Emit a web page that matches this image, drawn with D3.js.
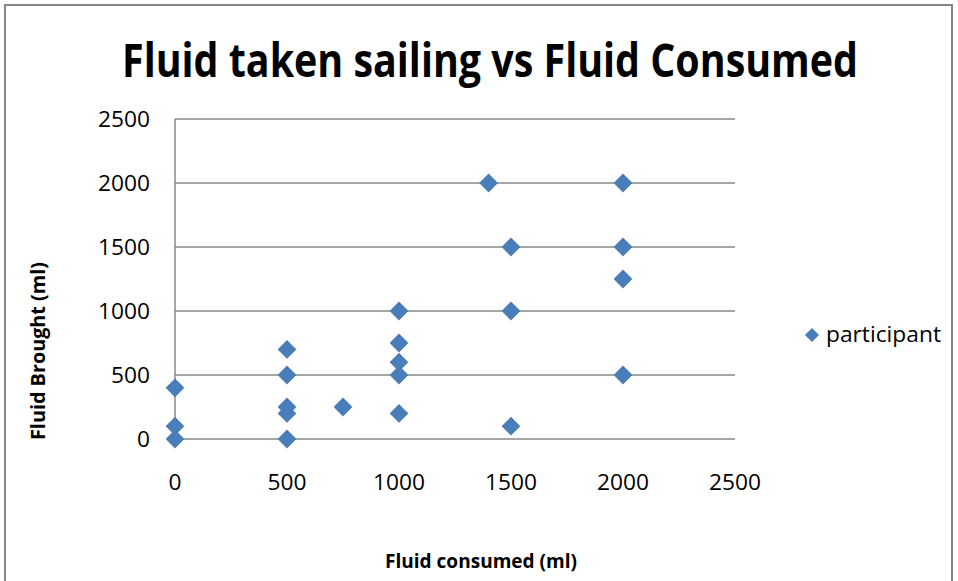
<!DOCTYPE html>
<html><head><meta charset="utf-8">
<script src="https://cdn.jsdelivr.net/npm/d3@7"></script>
<style>body{margin:0;background:#fff}</style>
</head><body>
<script>
const title = "Fluid taken sailing vs Fluid Consumed";
const xTitle = "Fluid consumed (ml)";
const yTitle = "Fluid Brought (ml)";
const seriesName = "participant";
const consumed = [0, 0, 0, 500, 500, 500, 500, 500, 750, 1000, 1000, 1000, 1000, 1000, 1400, 1500, 1500, 1500, 2000, 2000, 2000, 2000];
const brought  = [0, 100, 400, 0, 200, 250, 500, 700, 250, 200, 500, 600, 750, 1000, 2000, 100, 1000, 1500, 500, 1250, 1500, 2000];
const xTicks = [0, 500, 1000, 1500, 2000, 2500];
const yTicks = [0, 500, 1000, 1500, 2000, 2500];

const W = 958, H = 581;
const svg = d3.select("body").append("svg").attr("width", W).attr("height", H);
const font = "'Open Sans', sans-serif";

svg.append("rect").attr("x", 5).attr("y", 5).attr("width", 947).attr("height", 600)
  .attr("fill", "#fff").attr("stroke", "#868686").attr("stroke-width", 2);

const x = d3.scaleLinear().domain([0, 2500]).range([175, 735]);
const y = d3.scaleLinear().domain([0, 2500]).range([439, 119]);

svg.append("g").selectAll("line").data(yTicks).join("line")
  .attr("x1", x(0)).attr("x2", x(2500))
  .attr("y1", d => y(d)).attr("y2", d => y(d))
  .attr("stroke", "#888").attr("stroke-width", 1.5);
svg.append("line").attr("x1", x(0)).attr("x2", x(0)).attr("y1", y(0)).attr("y2", y(2500))
  .attr("stroke", "#888").attr("stroke-width", 1.5);

svg.append("g").selectAll("text").data(yTicks).join("text")
  .attr("x", 150).attr("y", d => y(d)).attr("dy", "0.36em")
  .attr("text-anchor", "end").attr("font-family", font)
  .attr("font-size", 21).attr("textLength", d => String(d).length * 13).attr("lengthAdjust", "spacingAndGlyphs")
  .attr("fill", "#000").text(d => d);
svg.append("g").selectAll("text").data(xTicks).join("text")
  .attr("x", d => x(d)).attr("y", 490)
  .attr("text-anchor", "middle").attr("font-family", font)
  .attr("font-size", 21).attr("textLength", d => String(d).length * 13).attr("lengthAdjust", "spacingAndGlyphs")
  .attr("fill", "#000").text(d => d);

const diamond = d3.symbol().type(d3.symbolDiamond2).size(225);
svg.append("g").selectAll("path").data(consumed.map((c, i) => [c, brought[i]])).join("path")
  .attr("d", diamond)
  .attr("transform", d => `translate(${x(d[0])},${y(d[1])})`)
  .attr("fill", "#4A7EBB");

svg.append("text").attr("transform", "translate(490,77) scale(1,1.15)").attr("text-anchor", "middle")
  .attr("font-family", font).attr("font-weight", "bold")
  .attr("font-size", 40).attr("textLength", 736).attr("lengthAdjust", "spacingAndGlyphs")
  .attr("fill", "#000").text(title);

svg.append("text").attr("x", 481).attr("y", 568).attr("text-anchor", "middle")
  .attr("font-family", font).attr("font-weight", "bold")
  .attr("font-size", 20).attr("textLength", 192).attr("lengthAdjust", "spacingAndGlyphs")
  .attr("fill", "#000").text(xTitle);
svg.append("text").attr("transform", "translate(45,351) rotate(-90)").attr("text-anchor", "middle")
  .attr("font-family", font).attr("font-weight", "bold")
  .attr("font-size", 20).attr("textLength", 178).attr("lengthAdjust", "spacingAndGlyphs")
  .attr("fill", "#000").text(yTitle);

svg.append("path").attr("d", diamond).attr("transform", "translate(812,335) scale(0.75)").attr("fill", "#4A7EBB");
svg.append("text").attr("x", 826).attr("y", 342).attr("font-family", font)
  .attr("font-size", 21).attr("textLength", 115).attr("lengthAdjust", "spacingAndGlyphs")
  .attr("fill", "#000").text(seriesName);
</script>
</body></html>
